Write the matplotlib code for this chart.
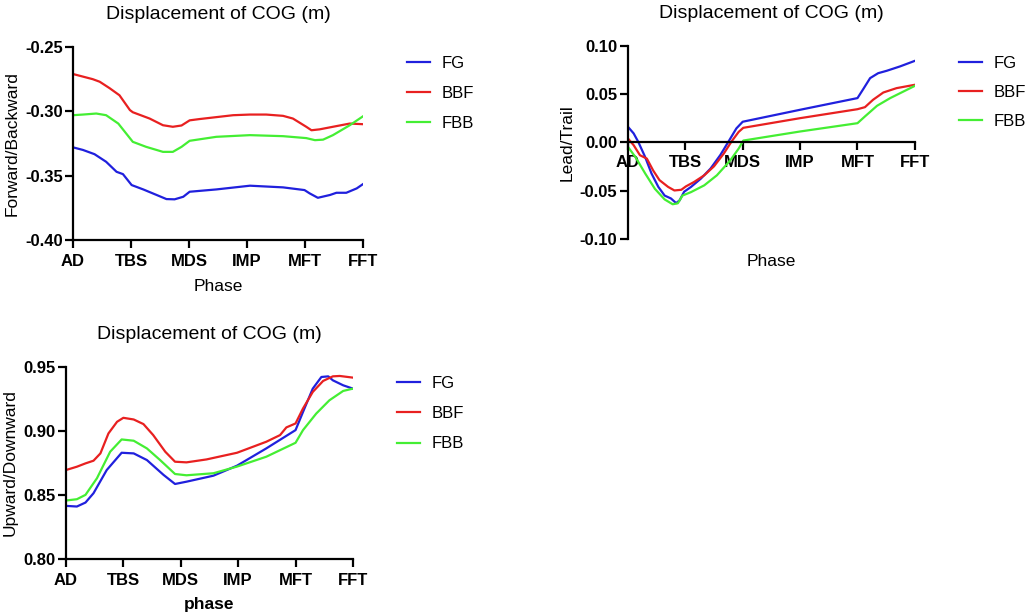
import matplotlib.pyplot as plt

plt.rcParams['font.family'] = ['Liberation Sans', 'DejaVu Sans']

phases = ['AD', 'TBS', 'MDS', 'IMP', 'MFT', 'FFT']
labels = ['FG', 'BBF', 'FBB']
colors = ['#2020dd', '#e82020', '#44ee33']

# Forward/Backward (phase position, value)
fb_fg_x = [0, 0.17, 0.37, 0.57, 0.75, 0.86, 1.01, 1.21, 1.44, 1.61, 1.75, 1.9, 2.01, 2.47, 3.05, 3.62,
           3.99, 4.08, 4.22, 4.43, 4.54, 4.71, 4.89, 5.0]
fb_fg_y = [-0.328, -0.330, -0.3333, -0.3392, -0.347, -0.3488, -0.3573, -0.3607, -0.365, -0.3682, -0.3684,
           -0.3664, -0.3625, -0.3607, -0.3578, -0.3591, -0.3612, -0.3638, -0.3672, -0.365, -0.3633, -0.3633,
           -0.3599, -0.3565]
fb_bbf_x = [0, 0.17, 0.34, 0.46, 0.63, 0.8, 0.98, 1.03, 1.32, 1.55, 1.72, 1.87, 2.01, 2.18, 2.76, 3.05,
            3.33, 3.62, 3.79, 4.02, 4.11, 4.25, 4.48, 4.77, 5.0]
fb_bbf_y = [-0.271, -0.273, -0.275, -0.277, -0.282, -0.2875, -0.299, -0.3007, -0.3056, -0.3108, -0.312,
            -0.311, -0.307, -0.306, -0.303, -0.3025, -0.3025, -0.3035, -0.3056, -0.312, -0.3147, -0.314,
            -0.312, -0.3095, -0.310]
fb_fbb_x = [0, 0.17, 0.4, 0.57, 0.78, 1.03, 1.26, 1.55, 1.72, 1.87, 2.01, 2.47, 3.05, 3.62, 4.02, 4.17,
            4.31, 4.48, 4.77, 5.0]
fb_fbb_y = [-0.303, -0.3025, -0.3017, -0.303, -0.3095, -0.3237, -0.3276, -0.3315, -0.3315, -0.3276,
            -0.3229, -0.3198, -0.3185, -0.3193, -0.3208, -0.3224, -0.322, -0.3185, -0.3108, -0.3038]

# Lead/Trail
lt_fg_x = [0, 0.1, 0.18, 0.3, 0.41, 0.53, 0.64, 0.75, 0.84, 0.9, 0.98, 1.1, 1.27, 1.44, 1.61, 1.75, 1.89,
           2.0, 3.0, 4.0, 4.1, 4.22, 4.36, 4.51, 4.74, 5.0]
lt_fg_y = [0.0163, 0.0094, 0.0007, -0.015, -0.032, -0.046, -0.055, -0.058, -0.0628, -0.060, -0.051, -0.046,
           -0.0375, -0.027, -0.013, 0.0007, 0.0146, 0.0215, 0.0339, 0.046, 0.0553, 0.0667, 0.0718, 0.0743,
           0.0788, 0.0846]
lt_bbf_x = [0, 0.1, 0.21, 0.33, 0.44, 0.55, 0.7, 0.81, 0.93, 1.01, 1.15, 1.33, 1.5, 1.67, 1.81, 1.93, 2.01,
            3.0, 4.0, 4.13, 4.27, 4.45, 4.68, 5.0]
lt_bbf_y = [0.0042, -0.0028, -0.0132, -0.0167, -0.029, -0.039, -0.046, -0.0497, -0.049, -0.0455, -0.041,
            -0.034, -0.0247, -0.0115, 0.0014, 0.011, 0.0152, 0.0252, 0.0345, 0.0366, 0.0442, 0.0518, 0.0563,
            0.0598]
lt_fbb_x = [0, 0.13, 0.3, 0.47, 0.64, 0.78, 0.87, 0.95, 1.1, 1.33, 1.55, 1.78, 1.93, 2.01, 3.0, 4.0, 4.13,
            4.34, 4.57, 5.0]
lt_fbb_y = [-0.0045, -0.015, -0.032, -0.048, -0.059, -0.064, -0.063, -0.055, -0.0514, -0.0444, -0.034,
            -0.0188, -0.0063, 0.002, 0.0114, 0.020, 0.027, 0.038, 0.046, 0.0587]

# Upward/Downward
ud_fg_x = [0, 0.19, 0.34, 0.48, 0.71, 0.97, 1.18, 1.41, 1.7, 1.9, 2.1, 2.57, 2.98, 3.49, 4.0, 4.13, 4.3,
           4.45, 4.57, 4.65, 4.83, 5.0]
ud_fg_y = [0.8415, 0.841, 0.8441, 0.8514, 0.8695, 0.883, 0.8825, 0.8773, 0.8657, 0.8586, 0.8604, 0.8651,
           0.8729, 0.8864, 0.9007, 0.9149, 0.9331, 0.9422, 0.9427, 0.9396, 0.9357, 0.9331]
ud_bbf_x = [0, 0.19, 0.34, 0.48, 0.6, 0.74, 0.89, 1.0, 1.18, 1.35, 1.52, 1.73, 1.9, 2.1, 2.45, 2.98, 3.49,
            3.73, 3.84, 4.0, 4.13, 4.3, 4.48, 4.65, 4.77, 5.0]
ud_bbf_y = [0.8695, 0.8721, 0.8747, 0.8768, 0.8825, 0.8981, 0.9072, 0.9103, 0.909, 0.9054, 0.8968, 0.8838,
            0.876, 0.8755, 0.8778, 0.883, 0.8916, 0.8968, 0.9028, 0.9059, 0.9176, 0.9305, 0.9391, 0.9427,
            0.943, 0.9417]
ud_fbb_x = [0, 0.19, 0.34, 0.54, 0.77, 0.97, 1.18, 1.41, 1.64, 1.9, 2.1, 2.57, 2.98, 3.49, 4.0, 4.13, 4.36,
            4.59, 4.83, 5.0]
ud_fbb_y = [0.8457, 0.8467, 0.8501, 0.8631, 0.8838, 0.8934, 0.8924, 0.8864, 0.8773, 0.8664, 0.8654, 0.867,
            0.8722, 0.8799, 0.8908, 0.9007, 0.9136, 0.924, 0.9313, 0.9331]


def style_axes(ax, ylim, yticks, ylabel, xlabel, xlabel_bold=False):
    ax.set_xlim(0, 5)
    ax.set_ylim(*ylim)
    ax.set_xticks(range(6))
    ax.set_xticklabels(phases)
    ax.set_yticks(yticks)
    ax.set_yticklabels(['%.2f' % t for t in yticks])
    ax.spines['top'].set_visible(False)
    ax.spines['right'].set_visible(False)
    ax.spines['left'].set_linewidth(1.6)
    ax.spines['bottom'].set_linewidth(1.6)
    ax.tick_params(width=1.6, length=6)
    ax.tick_params(axis='y', pad=1.5)
    ax.tick_params(axis='x', pad=4)
    ax.set_ylabel(ylabel, fontsize=12.5, labelpad=4)
    ax.set_xlabel(xlabel, fontsize=12.5, fontweight='bold' if xlabel_bold else 'normal')
    ax.set_title('Displacement of COG (m)', fontsize=14, pad=20)


def bold_ticks(ax):
    for lab in ax.get_xticklabels() + ax.get_yticklabels():
        lab.set_fontweight('bold')
        lab.set_fontsize(12)


def add_legend(ax, x, y, spacing):
    ax.legend(loc='upper left', bbox_to_anchor=(x, y), bbox_transform=fig.transFigure, frameon=False,
              fontsize=12, handlelength=1.35, labelspacing=spacing, handletextpad=0.75, borderpad=0,
              borderaxespad=0)


fig = plt.figure(figsize=(10.26, 6.13), dpi=100)

ax1 = fig.add_axes([0.0712, 0.6085, 0.2827, 0.3148])
for xs, ys, c, lab in zip([fb_fg_x, fb_bbf_x, fb_fbb_x], [fb_fg_y, fb_bbf_y, fb_fbb_y], colors, labels):
    ax1.plot(xs, ys, color=c, lw=1.6, label=lab)
style_axes(ax1, (-0.40, -0.25), [-0.40, -0.35, -0.30, -0.25], 'Forward/Backward', 'Phase')
ax1.xaxis.set_label_coords(0.5, -0.2)
bold_ticks(ax1)
add_legend(ax1, 407 / 1026, 1 - 56 / 613, 0.91)

ax2 = fig.add_axes([0.612, 0.6101, 0.2797, 0.3149])
for xs, ys, c, lab in zip([lt_fg_x, lt_bbf_x, lt_fbb_x], [lt_fg_y, lt_bbf_y, lt_fbb_y], colors, labels):
    ax2.plot(xs, ys, color=c, lw=1.6, label=lab)
style_axes(ax2, (-0.10, 0.10), [-0.10, -0.05, 0.00, 0.05, 0.10], 'Lead/Trail', 'Phase')
ax2.spines['bottom'].set_position(('data', 0))
ax2.tick_params(axis='x', pad=3)
ax2.xaxis.set_label_coords(0.5, -0.08)
bold_ticks(ax2)
add_legend(ax2, 959 / 1026, 1 - 56 / 613, 0.83)

ax3 = fig.add_axes([0.0643, 0.0881, 0.2797, 0.3132])
for xs, ys, c, lab in zip([ud_fg_x, ud_bbf_x, ud_fbb_x], [ud_fg_y, ud_bbf_y, ud_fbb_y], colors, labels):
    ax3.plot(xs, ys, color=c, lw=1.6, label=lab)
style_axes(ax3, (0.80, 0.95), [0.80, 0.85, 0.90, 0.95], 'Upward/Downward', 'phase', xlabel_bold=True)
ax3.xaxis.set_label_coords(0.5, -0.2)
bold_ticks(ax3)
add_legend(ax3, 397 / 1026, 1 - 376 / 613, 0.91)

fig.savefig('out.png', dpi=100)
